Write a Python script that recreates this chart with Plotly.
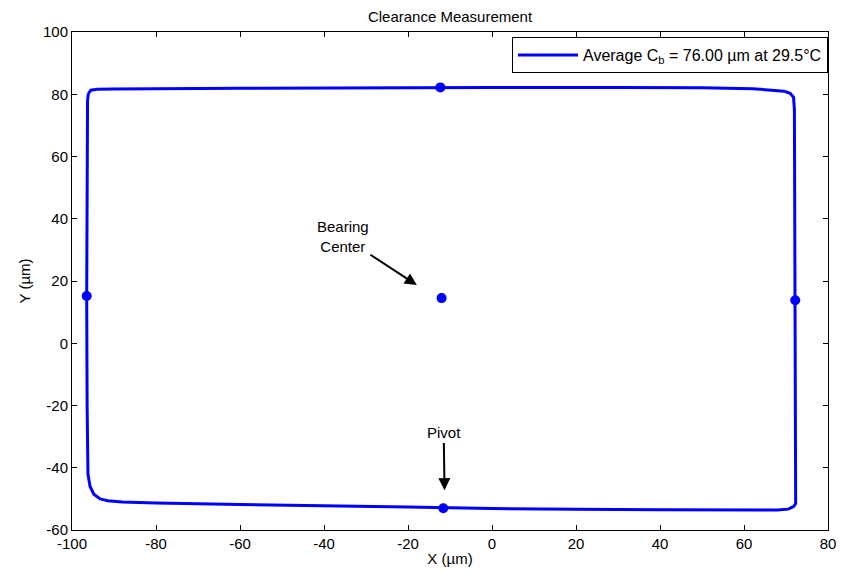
import plotly.graph_objects as go

# Measured clearance path (um), traced clockwise from top-left
path_x = [-96.1, -95.5, -94.0, -90.0, -60.0, -30.0, 0.0, 30.0, 50.0, 62.0, 67.0, 69.5, 71.0, 71.8, 72.0,
          72.1, 72.2, 72.3, 72.4, 72.3, 71.8, 70.5, 68.0, 60.0, 40.0, 20.0, 0.0, -20.0, -40.0, -60.0,
          -80.0, -88.0, -91.5, -93.3, -94.8, -95.7, -96.2, -96.4, -96.5, -96.4, -96.3, -96.1]
path_y = [80.3, 81.3, 81.6, 81.7, 81.9, 82.1, 82.2, 82.2, 82.1, 81.8, 81.4, 81.0, 80.3, 79.0, 75.0,
          40.0, 14.0, -20.0, -48.0, -51.5, -52.5, -53.3, -53.6, -53.6, -53.5, -53.3, -53.1, -52.6, -52.3, -51.8,
          -51.3, -51.0, -50.6, -50.0, -48.5, -46.0, -42.0, -20.0, 15.0, 50.0, 78.0, 80.3]

# Key points: top, left, right, bearing center, pivot
pts_x = [-12.3, -96.5, 72.2, -12.0, -11.6]
pts_y = [82.2, 15.2, 13.8, 14.5, -53.0]

legend_label = "Average C<sub>b</sub> = 76.00 \u00b5m at 29.5\u00b0C"
x_ticks = [-100, -80, -60, -40, -20, 0, 20, 40, 60, 80]
y_ticks = [-60, -40, -20, 0, 20, 40, 60, 80, 100]

blue = "#0000FF"
fig = go.Figure()
fig.add_trace(go.Scatter(x=path_x, y=path_y, mode="lines",
                         line=dict(color=blue, width=3), name=legend_label, showlegend=True))
fig.add_trace(go.Scatter(x=pts_x, y=pts_y, mode="markers",
                         marker=dict(color=blue, size=10), showlegend=False))

font = "Liberation Sans, Arial, sans-serif"
fig.update_layout(
    width=849, height=580,
    margin=dict(l=64, r=29, t=24, b=58),
    paper_bgcolor="white", plot_bgcolor="white",
    font=dict(family=font, size=15, color="black"),
    title=dict(text="Clearance Measurement", x=0.5, xanchor="center", xref="paper",
               y=1.0, yref="container", yanchor="top", pad=dict(t=3),
               font=dict(size=15, family=font, color="black")),
    legend=dict(x=1.0, y=0.99, xanchor="right", yanchor="top", bgcolor="white",
                bordercolor="black", borderwidth=1, itemwidth=60, font=dict(size=16, family=font)),
    xaxis=dict(range=[-100, 80], tickvals=x_ticks, ticktext=[str(v) for v in x_ticks],
               ticks="inside", ticklen=5, tickcolor="black",
               showline=True, linecolor="black", linewidth=1, mirror="ticks", showgrid=False,
               zeroline=False, title=dict(text="X (\u00b5m)", standoff=2, font=dict(size=15))),
    yaxis=dict(range=[-60, 100], tickvals=y_ticks, ticktext=[str(v) for v in y_ticks],
               ticks="inside", ticklen=5, tickcolor="black",
               showline=True, linecolor="black", linewidth=1, mirror="ticks", showgrid=False,
               zeroline=False, title=dict(text="Y (\u00b5m)", standoff=8, font=dict(size=15))),
)

fig.add_annotation(x=-17.9, y=18.7, ax=-35.5, ay=34.2, axref="x", ayref="y", xref="x", yref="y",
                   text="Bearing<br>Center", showarrow=True, arrowhead=2, arrowsize=1.2,
                   arrowwidth=2, arrowcolor="black", font=dict(size=15, family=font))
fig.add_annotation(x=-11.3, y=-47.2, ax=-11.5, ay=-28.8, axref="x", ayref="y", xref="x", yref="y",
                   text="Pivot", showarrow=True, arrowhead=2, arrowsize=1.2,
                   arrowwidth=2, arrowcolor="black", font=dict(size=15, family=font))

fig.write_html("out.html")
